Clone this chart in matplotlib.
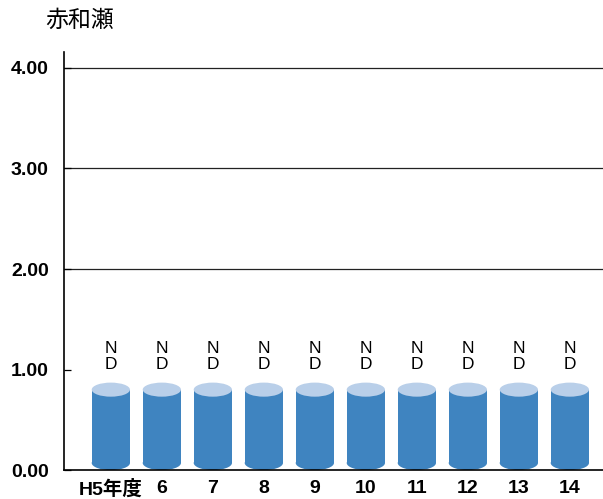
import matplotlib
matplotlib.use('Agg')
import matplotlib.pyplot as plt
from matplotlib.patches import Ellipse

plt.rcParams['font.family'] = ['Liberation Sans', 'Noto Sans CJK JP']

# data
years = ['H5年度', '6', '7', '8', '9', '10', '11', '12', '13', '14']
values = [0.8, 0.8, 0.8, 0.8, 0.8, 0.8, 0.8, 0.8, 0.8, 0.8]
labels = ['N\nD'] * 10
title = '赤和瀬'

body_col = '#3f84c0'
top_col = '#b9cfe9'

fig = plt.figure(figsize=(6.03, 4.99), dpi=100)
ax = fig.add_axes([0.106, 0.058, 0.894, 0.838])

x = list(range(len(years)))
w = 0.75
eh = 0.14
base = 0.07

ax.bar(x, [v - base for v in values], width=w, bottom=base, color=body_col, zorder=2)
for xi, v, lab in zip(x, values, labels):
    ax.add_patch(Ellipse((xi, base), w, eh, color=body_col, zorder=2, lw=0))
    ax.add_patch(Ellipse((xi, v), w, eh, color=top_col, zorder=3, lw=0))
    ax.text(xi, v + 0.18, lab, ha='center', va='bottom', fontsize=12.5,
            linespacing=1.05, zorder=4)

for g in [2, 3, 4]:
    ax.axhline(g, color='#222222', lw=0.9, zorder=1)

ax.set_xlim(-0.92, 9.65)
ax.set_ylim(0, 4.16)
ax.set_yticks([0, 1, 2, 3, 4])
ax.set_yticklabels(['%.2f' % t for t in [0, 1, 2, 3, 4]], fontsize=14, fontweight='bold')
ax.set_xticks(x)
ax.set_xticklabels(years, fontsize=14, fontweight='bold')
ax.tick_params(axis='y', direction='in', length=5, pad=11, width=0.9)
ax.tick_params(axis='x', length=0, pad=7)
for s in ['top', 'right']:
    ax.spines[s].set_visible(False)
ax.spines['left'].set_linewidth(1.2)
ax.spines['bottom'].set_linewidth(1.2)

fig.text(0.075, 0.96, title, fontsize=16.5, ha='left', va='center')

fig.savefig('out.png', dpi=100)
